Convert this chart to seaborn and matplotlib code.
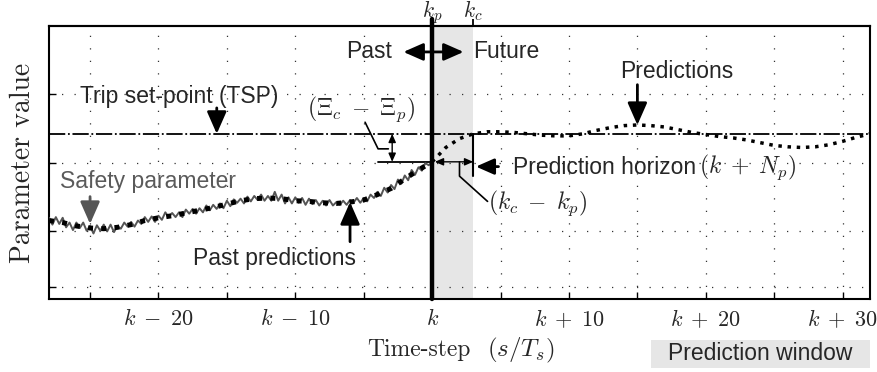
import numpy as np
import pandas as pd
import seaborn as sns
import matplotlib
matplotlib.use("Agg")
import matplotlib.pyplot as plt
from matplotlib.patches import Rectangle
from matplotlib.transforms import blended_transform_factory

sns.set_style("white")
plt.rcParams["font.family"] = ["Liberation Sans", "DejaVu Sans"]
plt.rcParams["mathtext.fontset"] = "cm"
plt.rcParams["axes.formatter.use_mathtext"] = True

# ---------------- data ----------------
# time steps relative to k
past_steps = list(range(-28, 1))
past_pred = [1.15, 1.12, 1.07, 1.04, 1.03, 1.05, 1.09, 1.15, 1.19, 1.22,
             1.26, 1.30, 1.34, 1.39, 1.44, 1.47, 1.48, 1.47, 1.44, 1.43,
             1.41, 1.40, 1.42, 1.45, 1.53, 1.62, 1.76, 1.89, 2.01]

safety_x = np.linspace(-28, 0, 113)
safety_vals = [1.19, 1.09, 1.20, 1.10, 1.19, 1.05, 1.12, 1.01, 1.12, 1.04,
               1.12, 1.00, 1.07, 0.96, 1.08, 1.00, 1.09, 0.99, 1.09, 0.98,
               1.07, 1.03, 1.12, 1.06, 1.13, 1.06, 1.15, 1.10, 1.20, 1.13,
               1.21, 1.13, 1.22, 1.16, 1.27, 1.20, 1.26, 1.20, 1.27, 1.20,
               1.31, 1.25, 1.32, 1.25, 1.33, 1.27, 1.37, 1.30, 1.38, 1.32,
               1.40, 1.33, 1.44, 1.36, 1.46, 1.41, 1.47, 1.40, 1.50, 1.43,
               1.51, 1.45, 1.53, 1.44, 1.51, 1.44, 1.57, 1.44, 1.53, 1.40,
               1.49, 1.40, 1.49, 1.41, 1.48, 1.38, 1.47, 1.39, 1.45, 1.37,
               1.44, 1.37, 1.45, 1.37, 1.42, 1.38, 1.44, 1.38, 1.45, 1.41,
               1.48, 1.41, 1.48, 1.43, 1.53, 1.48, 1.57, 1.51, 1.63, 1.56,
               1.67, 1.61, 1.75, 1.69, 1.81, 1.74, 1.89, 1.82, 1.93, 1.88,
               1.99, 1.96, 2.01]

future_steps = list(range(0, 33))
future_pred = [2.01, 2.22, 2.35, 2.42, 2.45, 2.45, 2.44, 2.42, 2.40, 2.39,
               2.39, 2.42, 2.47, 2.51, 2.54, 2.55, 2.54, 2.52, 2.48, 2.44,
               2.41, 2.38, 2.36, 2.33, 2.29, 2.25, 2.23, 2.22, 2.23, 2.26,
               2.31, 2.37, 2.42]

tsp_value = 2.42
k_p, k_c = 0, 3
top_labels = ["$k_p$", "$k_c$"]

xtick_pos = [-25, -20, -15, -10, -5, 0, 5, 10, 15, 20, 25, 30]
xtick_labels = ["", r"$k\;-\;20$", "", r"$k\;-\;10$", "", "$k$", "",
                r"$k\;+\;10$", "", r"$k\;+\;20$", "", r"$k\;+\;30$"]
ytick_pos = [0.17, 1, 2, 3]

# ---------------- figure ----------------
fig = plt.figure(figsize=(8.78, 3.72), dpi=100)
ax = fig.add_axes([49 / 878, 1 - 299 / 372, 821 / 878, 273 / 372])

ax.axvspan(k_p, k_c, color="#e6e6e6", lw=0, zorder=0)
ax.set_axisbelow(True)
ax.grid(True, color="#333333", linestyle=(0, (1, 9)), lw=0.9)

ax.axhline(tsp_value, color="k", lw=1.3, linestyle=(0, (9, 1.5, 1, 1.5)), zorder=2)
sns.lineplot(x=safety_x, y=safety_vals, color="#555555", lw=1.4, ax=ax, zorder=3)
sns.lineplot(x=past_steps, y=past_pred, color="k", lw=3.6, linestyle=":", ax=ax, zorder=4)
sns.lineplot(x=future_steps, y=future_pred, color="k", lw=2.5, linestyle=":", ax=ax, zorder=4)
ax.axvline(k_p, ymin=0, ymax=1.026, color="k", lw=3.2, clip_on=False, zorder=6)

ax.set_xlim(-28, 32)
ax.set_ylim(0, 4)
ax.set_xticks(xtick_pos, xtick_labels)
ax.set_yticks(ytick_pos, [""] * len(ytick_pos))
ax.tick_params(axis="both", which="both", direction="in", length=5, width=1,
               color="k", labelsize=16, bottom=True, left=True, pad=7)
for s in ax.spines.values():
    s.set_color("k")
    s.set_linewidth(1.5)
ax.set_xlabel("")
ax.set_ylabel("")

sec = ax.secondary_xaxis("top")
sec.set_xticks([k_p, k_c], ["", ""])
sec.tick_params(axis="x", direction="out", length=5, width=1.3,
                pad=0, top=True, labeltop=False, color="k")
sec.spines["top"].set_linewidth(1.5)
tr = blended_transform_factory(ax.transData, ax.transAxes)
for pos, lab in zip([k_p, k_c], top_labels):
    ax.text(pos, 1.030, lab, fontsize=15.5, ha="center", va="baseline",
            transform=tr)

# axis labels (serif, Computer Modern)
ax.text(-0.032, 0.5, "Parameter value", family="cmr10", fontsize=20,
        rotation=90, ha="center", va="center", transform=ax.transAxes)
fig.text(367 / 878, 1 - 350 / 372, "Time-step", family="cmr10",
         fontsize=17, ha="left", va="center")
fig.text(487 / 878, 1 - 350 / 372, "$(s/T_s)$", fontsize=18,
         ha="left", va="center")

# ---------------- annotations ----------------
fs = 16.5
mfs = 17
big = dict(arrowstyle="-|>,head_length=0.5,head_width=0.22", lw=2, color="k",
           mutation_scale=27, shrinkA=0, shrinkB=0)
# past / future
ax.annotate("", xy=(-2.1, 3.62), xytext=(2.3, 3.62),
            arrowprops=dict(big, arrowstyle="<|-|>,head_length=0.5,head_width=0.22",
                            mutation_scale=24), zorder=7)
ax.text(-2.9, 3.62, "Past", fontsize=fs, ha="right", va="center")
ax.text(3.0, 3.62, "Future", fontsize=fs, ha="left", va="center")

# predictions
ax.text(17.9, 3.34, "Predictions", fontsize=fs, ha="center", va="center")
ax.annotate("", xy=(15.0, 2.55), xytext=(15.0, 3.14), arrowprops=big)

# TSP
ax.text(-18.45, 2.97, "Trip set-point (TSP)", fontsize=fs, ha="center", va="center")
ax.annotate("", xy=(-15.74, 2.42), xytext=(-15.74, 2.80), arrowprops=big)

# (Xi_c - Xi_p)
ax.text(-5.2, 2.78, r"$(\Xi_c\;-\;\Xi_p)$", fontsize=mfs, ha="center", va="center")
ax.plot([-4.9, -3.95, -3.2], [2.59, 2.20, 2.20], color="k", lw=1.2)
ax.plot([-3.95, 0], [2.01, 2.01], color="k", lw=1.3)
ax.annotate("", xy=(-2.92, 2.42), xytext=(-2.92, 2.01),
            arrowprops=dict(arrowstyle="<|-|>,head_length=0.5,head_width=0.22",
                            lw=1, color="k", mutation_scale=10, shrinkA=0, shrinkB=0))

# prediction horizon
ax.annotate("", xy=(0.2, 2.01), xytext=(3.0, 2.01),
            arrowprops=dict(arrowstyle="<|-|>,head_length=0.5,head_width=0.22",
                            lw=1, color="k", mutation_scale=10, shrinkA=0, shrinkB=0))
ax.plot([3.0, 3.0], [2.42, 1.80], color="k", lw=1.5)
ax.annotate("", xy=(3.2, 1.94), xytext=(4.85, 1.94),
            arrowprops=dict(big, mutation_scale=22))
ax.text(5.9, 1.92, "Prediction horizon", fontsize=fs, ha="left", va="center")
ax.text(19.5, 1.93, r"$(k\;+\;N_p)$", fontsize=mfs, ha="left", va="center")

# (k_c - k_p)
ax.plot([2.0, 2.0, 4.05], [2.01, 1.80, 1.43], color="k", lw=1.2)
ax.text(4.1, 1.40, r"$(k_c\;-\;k_p)$", fontsize=mfs, ha="left", va="center")

# safety parameter
ax.text(-20.8, 1.72, "Safety parameter", fontsize=fs, color="#5a5a5a",
        ha="center", va="center")
ax.annotate("", xy=(-25.0, 1.10), xytext=(-25.0, 1.50),
            arrowprops=dict(big, color="#555555"))

# past predictions
ax.text(-11.5, 0.60, "Past predictions", fontsize=fs, ha="center", va="center")
ax.annotate("", xy=(-6.0, 1.42), xytext=(-6.0, 0.84), arrowprops=big)

# prediction window box
fig.add_artist(Rectangle((651 / 878, 1 - 368 / 372), 219 / 878, 28 / 372,
                         transform=fig.transFigure, color="#e6e6e6", lw=0))
fig.text(760.5 / 878, 1 - 354 / 372, "Prediction window", fontsize=fs,
         ha="center", va="center")

fig.savefig("out.png", dpi=100)
